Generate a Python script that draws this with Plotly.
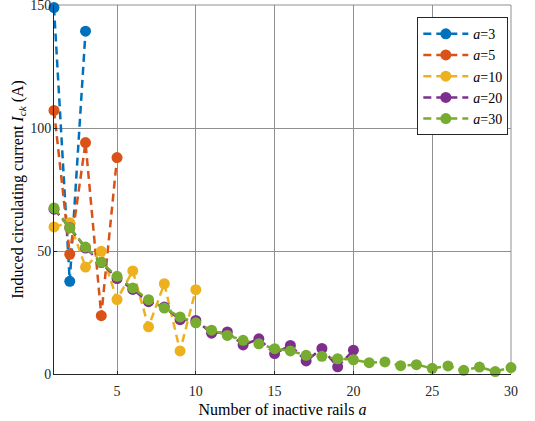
import plotly.graph_objects as go

# Induced circulating current vs. number of inactive rails, for several a
x3 = [1, 2, 3]
y3 = [149, 37.7, 139.4]

x5 = [1, 2, 3, 4, 5]
y5 = [107.2, 48.7, 94.1, 23.7, 88.0]

x10 = list(range(1, 11))
y10 = [59.8, 61.5, 43.5, 49.9, 30.3, 41.9, 19.2, 36.7, 9.4, 34.3]

x20 = list(range(1, 21))
y20 = [67.0, 59.5, 51.2, 45.3, 38.8, 34.4, 29.4, 27.2, 22.1, 21.8,
       16.6, 17.1, 11.8, 14.3, 8.3, 11.6, 5.3, 10.4, 2.9, 9.7]

x30 = list(range(1, 31))
y30 = [67.5, 59.4, 51.6, 45.4, 39.7, 35.0, 30.2, 26.8, 23.2, 20.8,
       17.8, 15.7, 13.7, 12.3, 10.3, 9.4, 7.6, 7.2, 6.2, 5.8,
       4.6, 4.9, 3.4, 3.8, 2.3, 3.3, 1.5, 2.8, 1.0, 2.6]

series = [
    ("3", x3, y3, "#0072BD"),
    ("5", x5, y5, "#D95319"),
    ("10", x10, y10, "#EDB120"),
    ("20", x20, y20, "#7E2F8E"),
    ("30", x30, y30, "#77AC30"),
]

x_ticks = [5, 10, 15, 20, 25, 30]
y_ticks = [0, 50, 100, 150]

FONT = "Times New Roman, Liberation Serif, serif"

fig = go.Figure()
for name, xs, ys, color in series:
    fig.add_trace(go.Scatter(
        x=xs, y=ys,
        mode="lines+markers",
        name=f"<i>a</i>={name}",
        line=dict(color=color, width=2.5, dash="8px,5px"),
        marker=dict(color=color, size=11, symbol="circle"),
        cliponaxis=False,
    ))

grid = "#8f8f8f"
fig.update_layout(
    width=535, height=421,
    margin=dict(l=54, r=24, t=5, b=47, autoexpand=False),
    paper_bgcolor="white",
    plot_bgcolor="white",
    font=dict(family=FONT, size=14, color="#262626"),
    showlegend=True,
    legend=dict(
        x=0.795, y=0.967, xanchor="left", yanchor="top",
        bgcolor="white", bordercolor="#262626", borderwidth=1,
        font=dict(family=FONT, size=14, color="#000000"),
        tracegroupgap=0, itemwidth=45,
    ),
    xaxis=dict(
        range=[1, 30], tickvals=x_ticks,
        showgrid=True, gridcolor=grid, gridwidth=1,
        showline=True, linecolor="#262626", linewidth=1,
        ticks="inside", ticklen=3, tickcolor="#262626",
        zeroline=False, automargin=False, ticklabelstandoff=4,
        tickfont=dict(family=FONT, size=14, color="#262626"),
        title=dict(text="Number of inactive rails <i>a</i>",
                   font=dict(family=FONT, size=16, color="#000000"),
                   standoff=6),
    ),
    yaxis=dict(
        range=[0, 150.05], tickvals=y_ticks,
        showgrid=True, gridcolor=grid, gridwidth=1,
        showline=True, linecolor="#262626", linewidth=1,
        ticks="inside", ticklen=3, tickcolor="#262626",
        zeroline=False, ticklabeloverflow="allow", automargin=False,
        ticklabelstandoff=-1,
        tickfont=dict(family=FONT, size=14, color="#262626"),
        title=dict(text="Induced circulating current <i>I</i><sub><i>ck</i></sub> (A)",
                   font=dict(family=FONT, size=16, color="#000000"),
                   standoff=2),
    ),
    shapes=[
        dict(type="line", xref="paper", yref="paper", x0=0, x1=1, y0=1, y1=1,
             line=dict(color=grid, width=1), layer="below"),
        dict(type="line", xref="paper", yref="paper", x0=1, x1=1, y0=0, y1=1,
             line=dict(color=grid, width=1), layer="below"),
    ],
)

fig.write_html("out.html")
